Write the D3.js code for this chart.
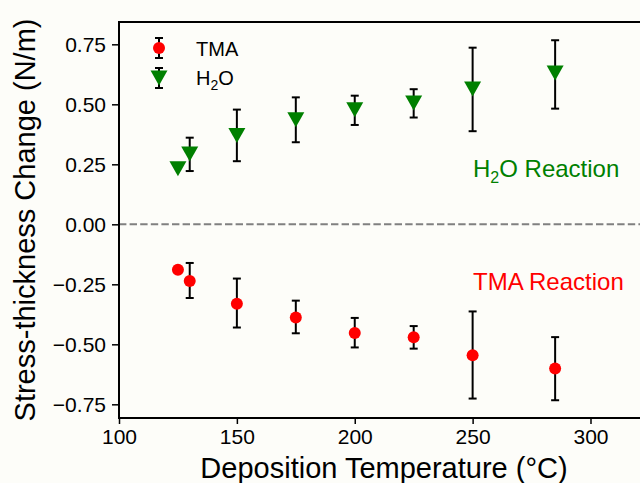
<!DOCTYPE html>
<html>
<head>
<meta charset="utf-8">
<script src="https://cdn.jsdelivr.net/npm/d3@7"></script>
<style>
  html, body { margin: 0; padding: 0; background: #fdfdf9; }
  svg { display: block; font-family: "Liberation Sans", Arial, sans-serif; }
</style>
</head>
<body>
<svg id="chart" width="640" height="483"></svg>
<script>
const temps = [125, 130, 150, 175, 200, 225, 250, 285];

const tmaValues = [-0.189, -0.236, -0.331, -0.388, -0.453, -0.471, -0.546, -0.601];
const tmaLow    = [null, -0.307, -0.430, -0.454, -0.513, -0.518, -0.726, -0.733];
const tmaHigh   = [null, -0.161, -0.226, -0.318, -0.390, -0.424, -0.363, -0.470];

const h2oValues = [0.236, 0.297, 0.374, 0.440, 0.482, 0.510, 0.568, 0.635];
const h2oLow    = [null, 0.222, 0.263, 0.342, 0.414, 0.445, 0.388, 0.482];
const h2oHigh   = [null, 0.361, 0.478, 0.529, 0.536, 0.563, 0.736, 0.767];

const xTicks = [100, 150, 200, 250, 300];
const yTicks = [-0.75, -0.5, -0.25, 0, 0.25, 0.5, 0.75];

const margin = { top: 22, right: -9, bottom: 65, left: 119 };
const width = 640, height = 483;
const innerW = width - margin.left - margin.right;
const innerH = height - margin.top - margin.bottom;

const svg = d3.select('#chart');
const g = svg.append('g')
  .attr('transform', 'translate(' + margin.left + ',' + margin.top + ')');

const x = d3.scaleLinear().domain([100, 321]).range([0, 521]);
const y = d3.scaleLinear().domain([-0.807, 0.843]).range([innerH, 0]);

// zero line
g.append('line')
  .attr('x1', 0).attr('x2', innerW)
  .attr('y1', y(0)).attr('y2', y(0))
  .attr('stroke', '#808080')
  .attr('stroke-width', 2)
  .attr('stroke-dasharray', '7.4,3.2');

// axes
const xAxis = d3.axisBottom(x).tickValues(xTicks).tickSize(6).tickPadding(5);
const yAxis = d3.axisLeft(y).tickValues(yTicks).tickSize(7).tickPadding(6)
  .tickFormat(d => (d < 0 ? '\u2212' : '') + d3.format('.2f')(Math.abs(d)));

const gx = g.append('g')
  .attr('transform', 'translate(0,' + innerH + ')')
  .call(xAxis);
const gy = g.append('g').call(yAxis);

[gx, gy].forEach(a => {
  a.select('.domain').remove();
  a.selectAll('.tick line').attr('stroke', '#000').attr('stroke-width', 1.5);
  a.selectAll('.tick text').attr('fill', '#000').style('font-size', '21px');
});

// frame (right edge falls outside the picture)
g.append('rect')
  .attr('x', 0).attr('y', 0)
  .attr('width', innerW).attr('height', innerH)
  .attr('fill', 'none')
  .attr('stroke', '#000')
  .attr('stroke-width', 2);

function errorBars(lo, hi) {
  const rows = temps.map((t, i) => ({ t: t, lo: lo[i], hi: hi[i] }))
    .filter(d => d.lo !== null);
  const eg = g.append('g').attr('stroke', '#000').attr('stroke-width', 2);
  eg.selectAll('line.v').data(rows).enter().append('line')
    .attr('x1', d => x(d.t)).attr('x2', d => x(d.t))
    .attr('y1', d => y(d.lo)).attr('y2', d => y(d.hi));
  ['lo', 'hi'].forEach(k => {
    eg.selectAll('line.c' + k).data(rows).enter().append('line')
      .attr('x1', d => x(d.t) - 4).attr('x2', d => x(d.t) + 4)
      .attr('y1', d => y(d[k])).attr('y2', d => y(d[k]));
  });
}

errorBars(h2oLow, h2oHigh);
errorBars(tmaLow, tmaHigh);

const triangle = 'M-8.5,-6.5L8.5,-6.5L0,8.5Z';

g.selectAll('path.h2o')
  .data(temps.map((t, i) => [t, h2oValues[i]]))
  .enter().append('path')
  .attr('d', triangle)
  .attr('transform', d => 'translate(' + x(d[0]) + ',' + y(d[1]) + ')')
  .attr('fill', '#008000');

g.selectAll('circle.tma')
  .data(temps.map((t, i) => [t, tmaValues[i]]))
  .enter().append('circle')
  .attr('cx', d => x(d[0]))
  .attr('cy', d => y(d[1]))
  .attr('r', 6)
  .attr('fill', '#ff0000');

// legend
const leg = svg.append('g');
function legendBar(cx, cy) {
  leg.append('line').attr('x1', cx).attr('x2', cx).attr('y1', cy - 10).attr('y2', cy + 10)
    .attr('stroke', '#000').attr('stroke-width', 2);
  [cy - 10, cy + 10].forEach(v => leg.append('line')
    .attr('x1', cx - 4).attr('x2', cx + 4).attr('y1', v).attr('y2', v)
    .attr('stroke', '#000').attr('stroke-width', 2));
}
legendBar(159, 48);
leg.append('circle').attr('cx', 159).attr('cy', 48).attr('r', 6).attr('fill', '#ff0000');
legendBar(159, 78);
leg.append('path').attr('d', triangle).attr('transform', 'translate(159,77)').attr('fill', '#008000');

leg.append('text').attr('x', 196).attr('y', 56).style('font-size', '20px').text('TMA');
const h2oLeg = leg.append('text').attr('x', 196).attr('y', 85).style('font-size', '20px');
h2oLeg.append('tspan').text('H');
h2oLeg.append('tspan').attr('dy', 5).style('font-size', '14px').text('2');
h2oLeg.append('tspan').attr('dy', -5).text('O');

// annotations
const ann1 = svg.append('text').attr('x', 473).attr('y', 177)
  .attr('fill', '#008000').style('font-size', '24px');
ann1.append('tspan').text('H');
ann1.append('tspan').attr('dy', 6).style('font-size', '16px').text('2');
ann1.append('tspan').attr('dy', -6).text('O Reaction');

svg.append('text').attr('x', 473).attr('y', 290)
  .attr('fill', '#ff0000').style('font-size', '24px').text('TMA Reaction');

// axis titles
svg.append('text')
  .attr('x', margin.left + innerW / 2).attr('y', 478)
  .attr('text-anchor', 'middle').style('font-size', '29px')
  .text('Deposition Temperature (\u00b0C)');

svg.append('text')
  .attr('transform', 'translate(35,' + (margin.top + innerH / 2) + ') rotate(-90)')
  .attr('text-anchor', 'middle').style('font-size', '29px')
  .text('Stress-thickness Change (N/m)');
</script>
</body>
</html>
